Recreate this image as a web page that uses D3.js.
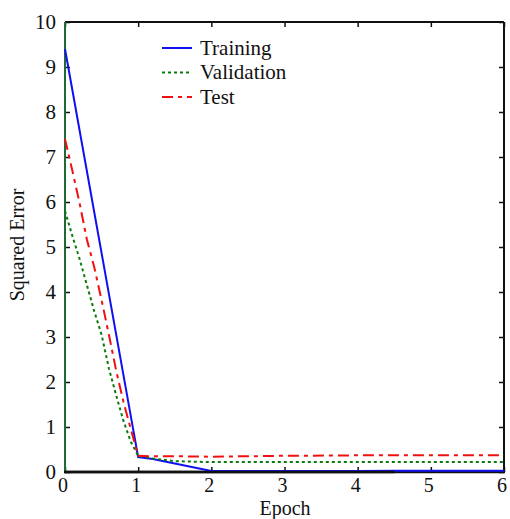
<!DOCTYPE html>
<html>
  <head>
    <title>Squared Error vs Epoch</title>
    <meta charset="utf-8">
    <style>
    body {
      margin: 0;
      background: #fff;
    }
    svg text {
      font-family: "Liberation Serif", "DejaVu Serif", serif;
      fill: #111;
    }
    </style>
  </head>
  <body>
    <svg></svg>
    <script src="https://d3js.org/d3.v7.min.js"></script>
    <script>
      // values
      var trainEpoch = [0, 1, 1.2, 2, 3, 4, 4.5, 6];
      var trainErr   = [9.4, 0.33, 0.29, 0.02, 0.02, 0.02, 0.03, 0.03];

      var gridEpoch = [0, 0.1, 0.2, 0.3, 0.4, 0.5, 0.6, 0.7, 0.8, 0.9, 1, 1.2, 1.5, 2, 3, 4, 5, 6];
      var valErr    = [5.8, 5.25, 4.73, 4.15, 3.57, 3.05, 2.3, 1.7, 1.13, 0.67, 0.36, 0.3, 0.24, 0.22, 0.22, 0.22, 0.22, 0.22];
      var testErr   = [7.4, 6.7, 5.97, 5.16, 4.55, 3.82, 3.05, 2.25, 1.55, 0.95, 0.36, 0.35, 0.35, 0.34, 0.36, 0.37, 0.37, 0.37];

      var xTicks = [0, 1, 2, 3, 4, 5, 6];
      var yTicks = [0, 1, 2, 3, 4, 5, 6, 7, 8, 9, 10];
      var seriesNames = ["Training", "Validation", "Test"];

      var width = 510, height = 519;
      var plotLeft = 65, plotRight = 504, plotTop = 22, plotBottom = 472;

      var svg = d3.select("svg")
          .attr("width", width)
          .attr("height", height);

      var x = d3.scaleLinear().domain([0, 6]).range([plotLeft, plotRight]);
      var y = d3.scaleLinear().domain([0, 10]).range([plotBottom, plotTop]);

      var series = [
        {name: seriesNames[0], xs: trainEpoch, ys: trainErr, color: "#1010f0", dash: null},
        {name: seriesNames[1], xs: gridEpoch, ys: valErr, color: "#0a7a0a", dash: "3,3"},
        {name: seriesNames[2], xs: gridEpoch, ys: testErr, color: "#f01010", dash: "11,5,4,5"}
      ];

      var line = d3.line()
          .x(function(d) { return x(d[0]); })
          .y(function(d) { return y(d[1]); });

      // inner ticks on all four sides
      var bottomAxis = d3.axisBottom(x).tickValues(xTicks).tickSize(-5).tickFormat("");
      var topAxis = d3.axisTop(x).tickValues(xTicks).tickSize(-5).tickFormat("");
      var leftAxis = d3.axisLeft(y).tickValues(yTicks).tickSize(-5).tickFormat("");
      var rightAxis = d3.axisRight(y).tickValues(yTicks).tickSize(-5).tickFormat("");

      svg.append("g").attr("transform", "translate(0," + plotBottom + ")").call(bottomAxis);
      svg.append("g").attr("transform", "translate(0," + plotTop + ")").call(topAxis);
      svg.append("g").attr("transform", "translate(" + plotLeft + ",0)").call(leftAxis);
      svg.append("g").attr("transform", "translate(" + plotRight + ",0)").call(rightAxis);

      svg.selectAll(".domain").remove();
      svg.selectAll(".tick line").attr("stroke", "#111").attr("stroke-width", 1.5);

      // frame
      svg.append("line").attr("x1", plotLeft).attr("x2", plotRight).attr("y1", plotTop).attr("y2", plotTop)
          .attr("stroke", "#111").attr("stroke-width", 2);
      svg.append("line").attr("x1", plotRight).attr("x2", plotRight).attr("y1", plotTop).attr("y2", plotBottom)
          .attr("stroke", "#111").attr("stroke-width", 2);
      svg.append("line").attr("x1", plotLeft).attr("x2", plotLeft).attr("y1", plotTop).attr("y2", plotBottom)
          .attr("stroke", "#1f6a35").attr("stroke-width", 2);

      // bottom spine goes under the lines only past epoch 4.5, as in the source
      svg.append("line").attr("x1", plotLeft - 1).attr("x2", plotRight + 1).attr("y1", plotBottom).attr("y2", plotBottom)
          .attr("stroke", "#111").attr("stroke-width", 2.5);

      svg.selectAll("path.series")
        .data(series)
        .enter().append("path")
          .attr("class", "series")
          .attr("fill", "none")
          .attr("stroke", function(d) { return d.color; })
          .attr("stroke-width", 2)
          .attr("stroke-dasharray", function(d) { return d.dash; })
          .attr("d", function(d) {
            return line(d.xs.map(function(v, i) { return [v, d.ys[i]]; }));
          });

      svg.append("line").attr("x1", plotLeft - 1).attr("x2", x(4.5)).attr("y1", plotBottom).attr("y2", plotBottom)
          .attr("stroke", "#111").attr("stroke-width", 2.5);

      // tick labels
      svg.selectAll("text.ylab")
        .data(yTicks)
        .enter().append("text")
          .attr("class", "ylab")
          .attr("x", 56)
          .attr("y", function(d) { return y(d); })
          .attr("dy", "0.35em")
          .attr("text-anchor", "end")
          .style("font-size", "21px")
          .text(function(d) { return d; });

      svg.selectAll("text.xlab")
        .data(xTicks)
        .enter().append("text")
          .attr("class", "xlab")
          .attr("x", function(d) { return x(d) - 2; })
          .attr("y", 492)
          .attr("text-anchor", "middle")
          .style("font-size", "20px")
          .text(function(d) { return d; });

      svg.append("text")
          .attr("x", 285)
          .attr("y", 515)
          .attr("text-anchor", "middle")
          .style("font-size", "20px")
          .text("Epoch");

      svg.append("text")
          .attr("transform", "translate(24,245) rotate(-90)")
          .attr("text-anchor", "middle")
          .style("font-size", "20px")
          .text("Squared Error");

      // legend
      var legend = svg.selectAll("g.legend")
        .data(series)
        .enter().append("g")
          .attr("class", "legend")
          .attr("transform", function(d, i) { return "translate(162," + (48 + i * 24.5) + ")"; });

      legend.append("line")
          .attr("x1", 0).attr("x2", 30)
          .attr("stroke", function(d) { return d.color; })
          .attr("stroke-width", 2)
          .attr("stroke-dasharray", function(d) { return d.dash; });

      legend.append("text")
          .attr("x", 38)
          .attr("dy", "0.33em")
          .style("font-size", "21px")
          .text(function(d) { return d.name; });
    </script>
  </body>
</html>
